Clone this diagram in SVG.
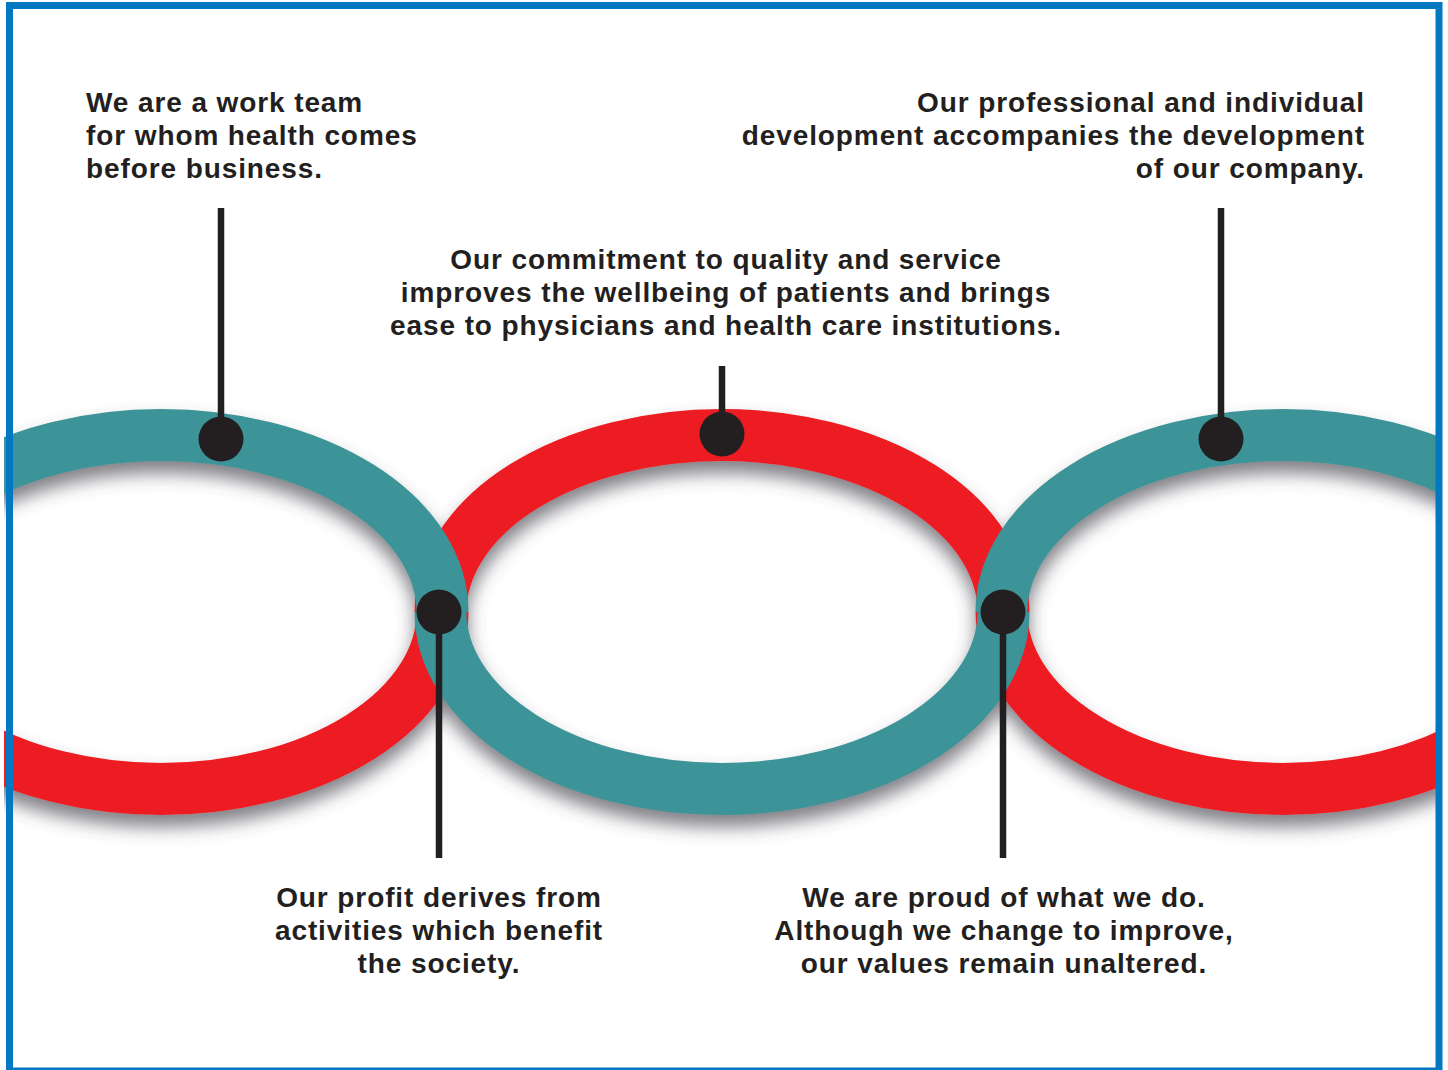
<svg xmlns="http://www.w3.org/2000/svg" width="1448" height="1070" viewBox="0 0 1448 1070">
<defs>
<style>
.lbl{font-family:"Liberation Sans",Arial,Helvetica,sans-serif;font-weight:bold;font-size:28px;letter-spacing:0.9px;fill:#231f20}
.band{fill:none;stroke-width:52;stroke-linecap:butt}
.teal{stroke:#3d9498}
.red{stroke:#ed1c24}
.stem{stroke:#231f20;stroke-width:6.5;fill:none}
.dot{fill:#231f20}
</style>
<filter id="shadow" x="-10%" y="-20%" width="120%" height="150%">
<feGaussianBlur in="SourceAlpha" stdDeviation="9"/>
<feOffset dx="0" dy="12" result="b"/>
<feFlood flood-color="#4a4a52" flood-opacity="0.7"/>
<feComposite in2="b" operator="in"/>
<feMerge><feMergeNode/><feMergeNode in="SourceGraphic"/></feMerge>
</filter>
<clipPath id="clip"><rect x="4" y="0" width="1432" height="1070"/></clipPath>
</defs>
<rect x="0" y="0" width="1448" height="1070" fill="#ffffff"/>
<g id="rings" clip-path="url(#clip)">
<g filter="url(#shadow)">
<path class="band red" d="M442.5,612 A281.5,177 0 0 1 -120.5,612"/>
<path class="band red" d="M440.5,612 A281.5,177 0 0 1 1003.5,612"/>
<path class="band red" d="M1564.5,612 A281.5,177 0 0 1 1001.5,612"/>
<path class="band teal" d="M-120.5,612 A281.5,177 0 0 1 442.5,612"/>
<path class="band teal" d="M1003.5,612 A281.5,177 0 0 1 440.5,612"/>
<path class="band teal" d="M1001.5,612 A281.5,177 0 0 1 1564.5,612"/>
</g>
</g>
<g id="connectors">
<line class="stem" x1="221" y1="208" x2="221" y2="439"/>
<line class="stem" x1="722" y1="366" x2="722" y2="434"/>
<line class="stem" x1="1221" y1="208" x2="1221" y2="439"/>
<line class="stem" x1="439" y1="612" x2="439" y2="858"/>
<line class="stem" x1="1003" y1="612" x2="1003" y2="858"/>
</g>
<g id="dots">
<circle class="dot" cx="221" cy="439" r="22.5"/>
<circle class="dot" cx="722" cy="434" r="22.5"/>
<circle class="dot" cx="1221" cy="439" r="22.5"/>
<circle class="dot" cx="439" cy="612" r="22.5"/>
<circle class="dot" cx="1003" cy="612" r="22.5"/>
</g>
<g id="node-team">
<text class="lbl" x="86" y="112">We are a work team</text>
<text class="lbl" x="86" y="145">for whom health comes</text>
<text class="lbl" x="86" y="178">before business.</text>
</g>
<g id="node-development" text-anchor="end">
<text class="lbl" x="1365" y="112">Our professional and individual</text>
<text class="lbl" x="1365" y="145">development accompanies the development</text>
<text class="lbl" x="1365" y="178">of our company.</text>
</g>
<g id="node-quality" text-anchor="middle">
<text class="lbl" x="726" y="269">Our commitment to quality and service</text>
<text class="lbl" x="726" y="302">improves the wellbeing of patients and brings</text>
<text class="lbl" x="726" y="335">ease to physicians and health care institutions.</text>
</g>
<g id="node-profit" text-anchor="middle">
<text class="lbl" x="439" y="907">Our profit derives from</text>
<text class="lbl" x="439" y="940">activities which benefit</text>
<text class="lbl" x="439" y="973">the society.</text>
</g>
<g id="node-proud" text-anchor="middle">
<text class="lbl" x="1004" y="907">We are proud of what we do.</text>
<text class="lbl" x="1004" y="940">Although we change to improve,</text>
<text class="lbl" x="1004" y="973">our values remain unaltered.</text>
</g>
<rect id="frame" x="9.5" y="5.5" width="1429.5" height="1065.5" fill="none" stroke="#0079c2" stroke-width="7"/>
</svg>
